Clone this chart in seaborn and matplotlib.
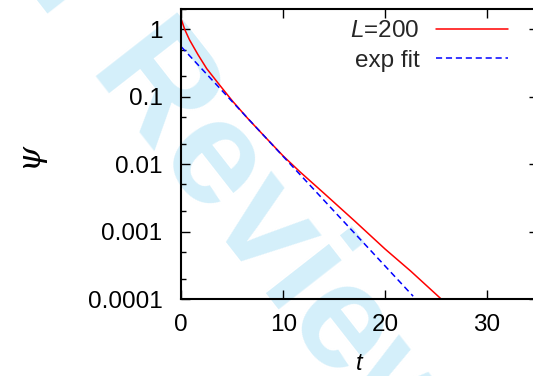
import numpy as np
import pandas as pd
import matplotlib
matplotlib.use("Agg")
import matplotlib.pyplot as plt
import matplotlib.ticker as mticker
import seaborn as sns

# values
t_sim = [0, 0.33, 0.8, 1.64, 2.5, 3.76, 5, 6.5, 8, 10, 11.64, 14, 17, 20, 22.5, 25.5]
psi_sim = [1.4, 1.0, 0.7, 0.42, 0.26, 0.149, 0.087, 0.048, 0.0275, 0.0132,
           0.0077, 0.0037, 0.00144, 0.00055, 0.00026, 0.0001]
t_fit = [0, 5, 10, 15, 22.75]
psi_fit = [0.55, 0.0845, 0.013, 0.0020, 0.00011]

x_ticks = [0, 10, 20, 30]
y_ticks = [1, 0.1, 0.01, 0.001, 0.0001]
y_tick_labels = ['1', '0.1', '0.01', '0.001', '0.0001']

df = pd.concat([
    pd.DataFrame({'t': t_sim, 'psi': psi_sim, 'series': '$L$=200'}),
    pd.DataFrame({'t': t_fit, 'psi': psi_fit, 'series': 'exp fit'}),
])

sns.set_theme(style='ticks')
plt.rcParams['font.family'] = ['Liberation Sans', 'DejaVu Sans']
plt.rcParams['mathtext.fontset'] = 'custom'
plt.rcParams['mathtext.it'] = 'Liberation Sans:italic'
plt.rcParams['mathtext.rm'] = 'Liberation Sans'

fig = plt.figure(figsize=(5.33, 3.76), dpi=100, facecolor='white')
W, H = 533, 376
ax = fig.add_axes([181.3 / W, 1 - 299 / H, (538 - 181.3) / W, 290 / H])
ax.patch.set_alpha(0)

# watermark behind everything
fig.text(192 / W, 1 - 136 / H, 'For Review', rotation=-52, ha='center', va='center',
         rotation_mode='anchor', fontsize=108, fontweight='bold', color='#d4effa', zorder=-5)

sns.lineplot(data=df, x='t', y='psi', hue='series', style='series',
             palette={'$L$=200': '#ff0000', 'exp fit': '#0000ff'},
             dashes={'$L$=200': '', 'exp fit': (4, 2.5)},
             sort=False, estimator=None, lw=1.1, ax=ax)

ax.set_yscale('log')
ax.set_xlim(0, 35)
ax.set_ylim(1e-4, 2)
ax.set_xticks(x_ticks)
ax.set_xticklabels([str(v) for v in x_ticks])
ax.set_yticks(y_ticks)
ax.set_yticklabels(y_tick_labels)
ax.yaxis.set_minor_locator(mticker.LogLocator(base=10, subs=(2, 5)))
ax.yaxis.set_minor_formatter(mticker.NullFormatter())
ax.xaxis.set_minor_locator(mticker.NullLocator())

ax.tick_params(which='both', direction='in', top=True, right=True, width=1, color='black')
ax.tick_params(which='major', length=6.7, labelsize=17.5, labelcolor='black')
ax.tick_params(axis='x', which='major', pad=11)
ax.tick_params(axis='y', which='major', pad=13.5)
ax.tick_params(which='minor', length=3.8)
for s in ax.spines.values():
    s.set_linewidth(1.5)
    s.set_color('black')

ax.set_xlabel('t', fontsize=17, fontstyle='italic', color='black')
ax.xaxis.set_label_coords(0.5, -0.183)
ax.set_ylabel('ψ', fontsize=23, family=['DejaVu Serif', 'Liberation Serif'],
              fontstyle='italic', color='black')
ax.yaxis.set_label_coords(-0.385, 0.5)

handles, labels = ax.get_legend_handles_labels()
ax.legend(handles, labels, loc='upper right', bbox_to_anchor=(508 / W, 1 - 20 / H),
          bbox_transform=fig.transFigure, frameon=False, markerfirst=False,
          fontsize=17.5, handlelength=2.95, handletextpad=0.7, labelspacing=0.32,
          borderpad=0, borderaxespad=0)

fig.savefig('out.png', dpi=100, facecolor='white')
